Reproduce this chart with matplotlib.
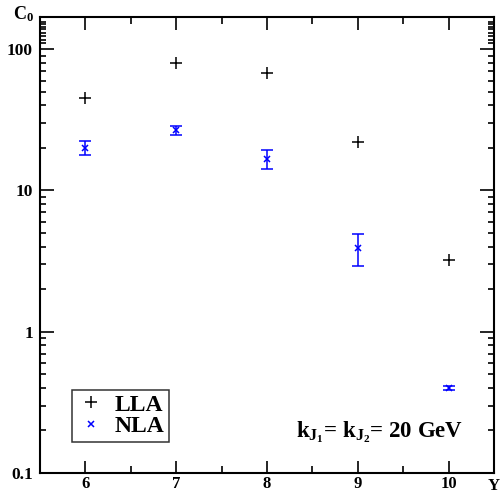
import matplotlib
matplotlib.use("Agg")
import matplotlib.pyplot as plt
from matplotlib.ticker import FixedLocator, NullFormatter
from matplotlib.lines import Line2D

plt.rcParams['font.family'] = ['Liberation Serif', 'DejaVu Serif']
plt.rcParams['font.weight'] = 'bold'
plt.rcParams['mathtext.fontset'] = 'custom'
plt.rcParams['mathtext.rm'] = 'Liberation Serif:bold'
plt.rcParams['mathtext.it'] = 'Liberation Serif:bold'
plt.rcParams['mathtext.bf'] = 'Liberation Serif:bold'

# Data
Y = [6, 7, 8, 9, 10]
lla = [45.0, 80.0, 68.0, 22.0, 3.2]
nla = [20.0, 26.6, 16.8, 3.9, 0.40]
nla_lo = [17.7, 24.5, 14.3, 2.94, 0.385]
nla_hi = [22.4, 28.8, 19.3, 4.92, 0.415]

xticks = [6, 7, 8, 9, 10]
xtick_labels = ['6', '7', '8', '9', '10']
yticks = [0.1, 1, 10, 100]
ytick_labels = ['0.1', '1', '10', '100']

fig = plt.figure(figsize=(5.01, 4.93), dpi=100)
ax = fig.add_axes([40/501, 20/493, 454/501, 456/493])

ax.set_yscale('log')
ax.set_xlim(5.5, 10.5)
ax.set_ylim(0.1, 169)

ax.plot(Y, lla, linestyle='none', marker='+', color='black', markersize=9,
        markeredgewidth=1.1)
yerr = [[n - l for n, l in zip(nla, nla_lo)], [h - n for n, h in zip(nla, nla_hi)]]
ax.errorbar(Y, nla, yerr=yerr, linestyle='none', marker='x', color='blue',
            markersize=5, markeredgewidth=1.1, elinewidth=1.1, capsize=4.5,
            capthick=1.1)

for s in ax.spines.values():
    s.set_linewidth(1.5)

ax.set_xticks(xticks)
ax.set_xticklabels(xtick_labels)
ax.set_xticks([5.5 + 0.5 * i for i in range(11) if (5.5 + 0.5 * i) % 1 != 0], minor=True)
ax.set_yticks(yticks)
ax.set_yticklabels(ytick_labels)
yminor = []
for dec in [0.1, 1, 10]:
    yminor += [dec * k for k in range(2, 10)]
yminor += [110, 117, 124, 131, 138, 144, 151, 157]
ax.yaxis.set_minor_locator(FixedLocator(yminor))
ax.yaxis.set_minor_formatter(NullFormatter())

ax.tick_params(axis='x', which='major', direction='in', length=9, width=1.2,
               top=True, bottom=True, labelsize=12, pad=2.5)
ax.tick_params(axis='x', which='minor', direction='in', length=5, width=1.2,
               top=True, bottom=True)
ax.tick_params(axis='y', which='major', direction='in', length=10, width=1.2,
               left=True, right=True, labelsize=12.5, pad=5)
ax.tick_params(axis='y', which='minor', direction='in', length=4.5, width=1.2,
               left=True, right=True)
for lab in ax.get_xticklabels() + ax.get_yticklabels():
    lab.set_fontweight('bold')

handles = [Line2D([], [], linestyle='none', marker='+', color='black',
                  markersize=8, markeredgewidth=1.1),
           Line2D([], [], linestyle='none', marker='x', color='blue',
                  markersize=5, markeredgewidth=1.1)]
leg = ax.legend(handles, ['LLA', 'NLA'], loc='lower left',
                bbox_to_anchor=(32/454, 31/456), frameon=True,
                fancybox=False, edgecolor='black', handlelength=1.2,
                handletextpad=0.4, labelspacing=0.0, borderpad=0.2,
                borderaxespad=0.0, prop={'weight': 'bold', 'size': 17})
leg.get_frame().set_linewidth(1.1)

fig.text(296/501, 1 - 437/493, r'k$_{J_1}$= k$_{J_2}$= 20 GeV', fontsize=16.5,
         fontweight='bold', ha='left', va='baseline')
fig.text(13/501, 1 - 19/493, r'C$_0$', fontsize=13, fontweight='bold',
         ha='left', va='baseline')
fig.text(488/501, 1 - 490/493, 'Y', fontsize=12, fontweight='bold',
         ha='left', va='baseline')

fig.savefig('out.png', dpi=100)
